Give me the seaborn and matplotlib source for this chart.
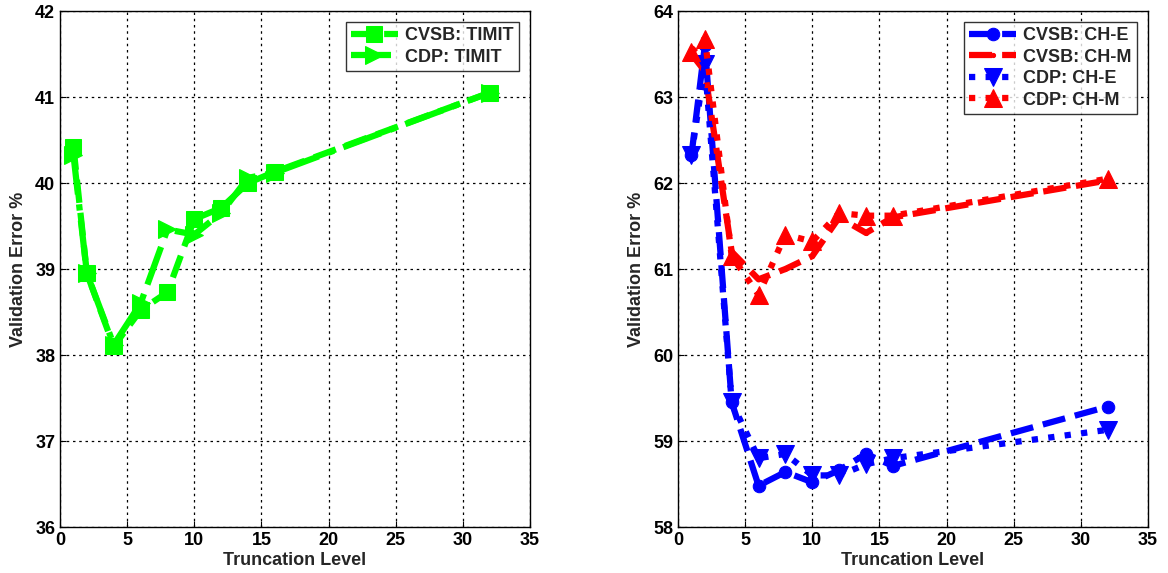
import matplotlib
matplotlib.use("Agg")
import matplotlib.pyplot as plt
import seaborn as sns
import pandas as pd

# ---- data ----
levels = [1, 2, 4, 6, 8, 10, 12, 14, 16, 32]
cvsb_timit = [40.42, 38.95, 38.10, 38.52, 38.73, 39.58, 39.71, 40.00, 40.13, 41.05]
cdp_timit = [40.33, 38.95, 38.12, 38.60, 39.46, 39.40, 39.65, 40.06, 40.12, 41.05]

cvsb_che = [62.32, 63.60, 59.45, 58.48, 58.64, 58.52, 58.66, 58.85, 58.71, 59.40]
cvsb_chm = [63.50, 63.30, 61.20, 60.88, 61.00, 61.15, 61.60, 61.42, 61.60, 62.03]
cdp_che = [62.32, 63.38, 59.45, 58.80, 58.85, 58.60, 58.60, 58.73, 58.80, 59.13]
cdp_chm = [63.52, 63.68, 61.15, 60.70, 61.40, 61.32, 61.65, 61.62, 61.62, 62.05]

x_ticks = [0, 5, 10, 15, 20, 25, 30, 35]
left_yticks = [36, 37, 38, 39, 40, 41, 42]
right_yticks = [58, 59, 60, 61, 62, 63, 64]

sns.set_style("white")
plt.rcParams['font.family'] = ['Liberation Sans', 'DejaVu Sans']
plt.rcParams['font.weight'] = 'bold'

fig = plt.figure(figsize=(11.68, 5.73), dpi=100)
W, H = 1168, 573
axL = fig.add_axes([60 / W, (H - 527) / H, 470 / W, 516 / H])
axR = fig.add_axes([678 / W, (H - 527) / H, 470 / W, 516 / H])

GREEN = '#00ff00'
BLUE = '#0000ff'
RED = '#ff0000'
LW = 4.5


def draw(ax, y, label, color, ls, marker, ms):
    df = pd.DataFrame({'x': levels, 'y': y})
    sns.lineplot(data=df, x='x', y='y', ax=ax, color=color, linestyle=ls,
                 linewidth=LW, marker=marker, markersize=ms,
                 markeredgecolor=color, markerfacecolor=color, label=label,
                 errorbar=None)


draw(axL, cvsb_timit, 'CVSB: TIMIT', GREEN, '--', 's', 11)
draw(axL, cdp_timit, 'CDP: TIMIT', GREEN, '-.', '>', 13)

draw(axR, cvsb_che, 'CVSB: CH-E', BLUE, '--', 'o', 9)
draw(axR, cvsb_chm, 'CVSB: CH-M', RED, '--', '.', 6)
draw(axR, cdp_che, 'CDP: CH-E', BLUE, ':', 'v', 13)
draw(axR, cdp_chm, 'CDP: CH-M', RED, ':', '^', 13)

for ax, yt in ((axL, left_yticks), (axR, right_yticks)):
    ax.set_xlim(x_ticks[0], x_ticks[-1])
    ax.set_ylim(yt[0], yt[-1])
    ax.set_xticks(x_ticks)
    ax.set_yticks(yt)
    ax.grid(True, color='black', linestyle=(0, (2, 3)), linewidth=0.9)
    ax.tick_params(axis='both', labelsize=13, direction='in', length=4,
                   colors='black', left=True, bottom=True)
    for lab in ax.get_xticklabels() + ax.get_yticklabels():
        lab.set_fontweight('bold')
    for sp in ax.spines.values():
        sp.set_color('black')
        sp.set_linewidth(1.0)
    ax.set_xlabel('Truncation Level', fontsize=13, fontweight='bold', labelpad=2)
    ax.set_ylabel('Validation Error %', fontsize=13, fontweight='bold', labelpad=6)
    leg = ax.legend(loc='upper right', fontsize=13, frameon=True, fancybox=False,
                    edgecolor='black', handlelength=2.6, borderaxespad=0.6,
                    borderpad=0.3, labelspacing=0.25, handletextpad=0.4)
    leg.get_frame().set_linewidth(1.0)
    for t in leg.get_texts():
        t.set_fontweight('bold')

fig.savefig('out.png', dpi=100, facecolor='white')
